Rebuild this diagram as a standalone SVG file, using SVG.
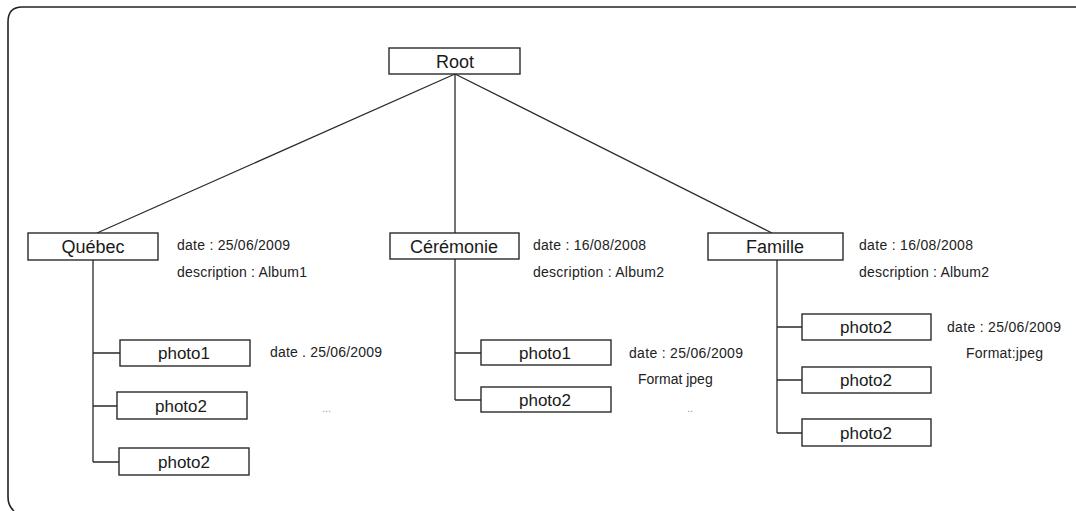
<svg xmlns="http://www.w3.org/2000/svg" width="1076" height="511" viewBox="0 0 1076 511">
<style>
.frame{fill:none;stroke:#222;stroke-width:1.6}
.box{fill:#fff;stroke:#2a2a2a;stroke-width:1.4}
.edge{fill:none;stroke:#2a2a2a;stroke-width:1.3}
.lbl{font-family:"Liberation Sans",Arial,sans-serif;font-size:18px;fill:#1a1a1a;text-anchor:middle}
.plbl{font-family:"Liberation Sans",Arial,sans-serif;font-size:17px;fill:#1a1a1a;text-anchor:middle}
.attr{font-family:"Liberation Sans",Arial,sans-serif;font-size:14px;fill:#222}
.dots{font-family:"Liberation Sans",Arial,sans-serif;font-size:11px;fill:#999}
</style>
<rect width="1076" height="511" fill="#fff"/>
<path class="frame" d="M14,511 Q8,506 8,497 L8,22 Q8,7 22,7 L1076,7"/>
<g id="connectors">
<line class="edge" x1="455" y1="74" x2="97" y2="233"/>
<line class="edge" x1="455" y1="74" x2="455" y2="233"/>
<line class="edge" x1="455" y1="74" x2="772" y2="233"/>
<path class="edge" d="M93,260 V462 M93,353 H120 M93,406 H117 M93,462 H119"/>
<path class="edge" d="M455,259 V400 M455,353 H481 M455,400 H481"/>
<path class="edge" d="M777,260 V433 M777,327 H802 M777,380 H802 M777,433 H802"/>
</g>
<g id="root"><rect class="box" x="389" y="48" width="131" height="26"/><text class="lbl" x="455" y="67.5">Root</text></g>
<g id="quebec"><rect class="box" x="28" y="233" width="130" height="27"/><text class="lbl" x="93" y="253">Québec</text>
<text class="attr" x="177" y="250" textLength="113" lengthAdjust="spacing">date : 25/06/2009</text>
<text class="attr" x="177" y="277" textLength="130" lengthAdjust="spacing">description : Album1</text></g>
<g id="ceremonie"><rect class="box" x="390" y="233" width="129" height="26"/><text class="lbl" x="454" y="252.5">Cérémonie</text>
<text class="attr" x="533" y="250" textLength="113" lengthAdjust="spacing">date : 16/08/2008</text>
<text class="attr" x="533" y="277" textLength="131" lengthAdjust="spacing">description : Album2</text></g>
<g id="famille"><rect class="box" x="708" y="233" width="135" height="27"/><text class="lbl" x="775" y="253">Famille</text>
<text class="attr" x="859" y="250" textLength="114" lengthAdjust="spacing">date : 16/08/2008</text>
<text class="attr" x="859" y="277" textLength="130" lengthAdjust="spacing">description : Album2</text></g>
<g id="q-photo1"><rect class="box" x="120" y="340" width="130" height="26"/><text class="plbl" x="184" y="359">photo1</text>
<text class="attr" x="270" y="357" textLength="112" lengthAdjust="spacing">date . 25/06/2009</text></g>
<g id="q-photo2"><rect class="box" x="117" y="392" width="130" height="27"/><text class="plbl" x="181" y="411.5">photo2</text>
<text class="dots" x="322" y="412">...</text></g>
<g id="q-photo2b"><rect class="box" x="119" y="448" width="130" height="27"/><text class="plbl" x="184" y="467.5">photo2</text></g>
<g id="c-photo1"><rect class="box" x="481" y="340" width="130" height="25"/><text class="plbl" x="545" y="358.5">photo1</text>
<text class="attr" x="629" y="358" textLength="114" lengthAdjust="spacing">date : 25/06/2009</text>
<text class="attr" x="638" y="384">Format jpeg</text></g>
<g id="c-photo2"><rect class="box" x="481" y="387" width="130" height="25"/><text class="plbl" x="545" y="405.5">photo2</text>
<text class="dots" x="687" y="412">..</text></g>
<g id="f-photo2a"><rect class="box" x="802" y="314" width="129" height="26"/><text class="plbl" x="866" y="333">photo2</text>
<text class="attr" x="947" y="332" textLength="114" lengthAdjust="spacing">date : 25/06/2009</text>
<text class="attr" x="966" y="358" textLength="77" lengthAdjust="spacing">Format:jpeg</text></g>
<g id="f-photo2b"><rect class="box" x="802" y="367" width="129" height="26"/><text class="plbl" x="866" y="386">photo2</text></g>
<g id="f-photo2c"><rect class="box" x="802" y="419" width="129" height="27"/><text class="plbl" x="866" y="438.5">photo2</text></g>
</svg>
